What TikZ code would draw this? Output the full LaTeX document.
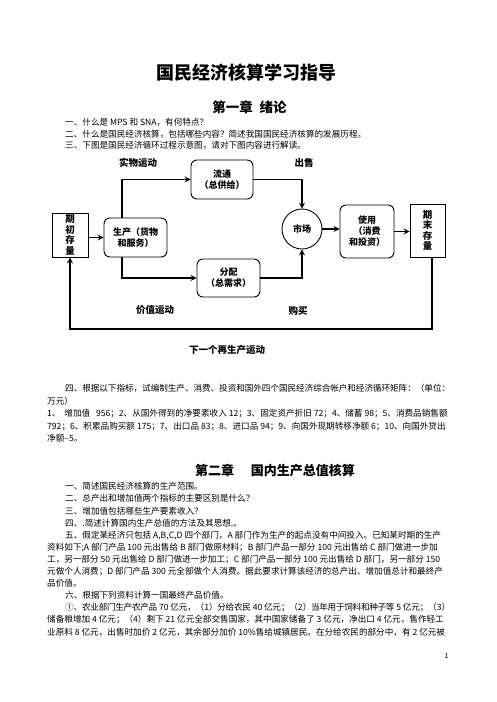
\documentclass[tikz,border=0pt]{standalone}
\usepackage{fontspec}
\setmainfont{Noto Sans CJK SC}
\usetikzlibrary{positioning}
\XeTeXlinebreaklocale "zh"
\XeTeXlinebreakskip=0pt plus 1pt minus 1.5pt
\setlength{\parindent}{0pt}

\newcommand{\bodyfont}{\fontsize{8.6}{10.5}\selectfont}

\begin{document}
\begin{tikzpicture}[x=1pt, y=-1pt, >=stealth,
    txt/.style={anchor=base west, inner sep=0pt, font=\bodyfont},
    jline/.style={anchor=base west, inner sep=0pt, font=\bodyfont, text width=#1, align=justify},
    lbl/.style={inner sep=0pt, font=\fontsize{9.5}{11}\selectfont\bfseries},
    blk/.style={draw, line width=0.9pt, inner sep=0pt, align=center, font=\fontsize{9}{11}\selectfont\bfseries},
    rblk/.style={blk, rounded corners=6pt},
    flow/.style={->, line width=1.6pt}]
    \useasboundingbox[fill=white] (0,0) rectangle (496,702);
    % Headings
    \node[anchor=base, inner sep=0pt, font=\fontsize{18}{18}\selectfont\bfseries] (title) at (246.5,79) {国民经济核算学习指导};
    \node[anchor=base, inner sep=0pt, font=\fontsize{13.5}{14}\selectfont\bfseries] (chapone) at (249.5,112) {第一章\hspace{7pt}绪论};
    \node[txt] (q11) at (65,125.5) {一、什么是 MPS 和 SNA，有何特点？};
    \node[txt] (q12) at (65,137) {二、什么是国民经济核算，包括哪些内容？简述我国国民经济核算的发展历程。};
    \node[txt] (q13) at (65,148.5) {三、下图是国民经济循环过程示意图，请对下图内容进行解读。};

    % Circulation diagram
    \begin{scope}
        \node[blk, minimum width=36pt, minimum height=44pt, font=\fontsize{9.5}{10.5}\selectfont\bfseries] (qichu) at (70,235) {期\\初\\存\\量};
        \node[rblk, minimum width=63pt, minimum height=39pt] (shengchan) at (135.5,237.5) {生产（货物\\和服务）};
        \node[rblk, minimum width=62pt, minimum height=39pt] (liutong) at (222,179.5) {流通\\（总供给）};
        \node[rblk, minimum width=63pt, minimum height=38pt] (fenpei) at (228.5,278) {分配\\（总需求）};
        \node[blk, circle, minimum size=40pt] (shichang) at (302,229) {市场};
        \node[rblk, minimum width=54pt, minimum height=53pt] (shiyong) at (367,231.5) {使用\\（消费\\和投资）};
        \node[blk, minimum width=35pt, minimum height=53pt, font=\fontsize{9.5}{10.5}\selectfont\bfseries] (qimo) at (427.5,230.5) {期\\末\\存\\量};
        \node[lbl] (shiwu) at (138,163) {实物运动};
        \node[lbl] (chushou) at (304,163) {出售};
        \node[lbl] (jiazhi) at (155,310) {价值运动};
        \node[lbl] (goumai) at (298,311) {购买};
        \node[lbl] (zaisheng) at (227,350) {下一个再生产运动};
        \coordinate (loop) at (0,329);
        % Connectors
        \draw[flow] (qichu.east |- shengchan.west) -- (shengchan.west);
        \draw[flow] ([xshift=-13.5pt]shengchan.north) |- (liutong.west);
        \draw[flow] (liutong.east) -| (shichang.north);
        \draw[flow] ([xshift=-13.5pt]shengchan.south) |- (fenpei.west);
        \draw[flow] (fenpei.east) -| (shichang.south);
        \draw[flow] (shichang.east) -- (shichang.east -| shiyong.west);
        \draw[flow] (shiyong.east) -- (shiyong.east -| qimo.west);
        \draw[flow] ([xshift=4.5pt]qimo.south) |- (loop -| qichu.south) -- (qichu.south);
    \end{scope}

    % Question four
    \node[jline=385pt] (q14a) at (65,391.8) {\parfillskip=0pt 四、根据以下指标，试编制生产、消费、投资和国外四个国民经济综合帐户和经济循环矩阵：（单位：};
    \node[txt] (q14b) at (47,404.3) {万元）};
    \node[jline=403pt] (q14c) at (47,416.8) {\parfillskip=0pt 1、\ \ 增加值\ \ \ 956；2、从国外得到的净要素收入 12；3、固定资产折旧 72；4、储蓄 98；5、消费品销售额};
    \node[jline=403pt] (q14d) at (47,429.3) {\parfillskip=0pt 792；6、积累品购买额 175；7、出口品 83；8、进口品 94；9、向国外现期转移净额 6；10、向国外贷出};
    \node[txt] (q14e) at (47,441.8) {净额–5。};

    % Chapter two
    \node[anchor=base, inner sep=0pt, font=\fontsize{13}{14}\selectfont\bfseries] (chaptwo) at (275,475) {第二章\hspace{17pt}国内生产总值核算};
    \node[txt] (q21) at (65,489.8) {一、简述国民经济核算的生产范围。};
    \node[txt] (q22) at (65,501.9) {二、总产出和增加值两个指标的主要区别是什么？};
    \node[txt] (q23) at (65,514) {三、增加值包括哪些生产要素收入？};
    \node[txt] (q24) at (65,526.1) {四、.简述计算国内生产总值的方法及其思想.。};
    \node[jline=385pt] (q25a) at (65,538.2) {\parfillskip=0pt 五、假定某经济只包括 A,B,C,D 四个部门，A 部门作为生产的起点没有中间投入。已知某时期的生产};
    \node[jline=403pt] (q25b) at (47,550.3) {\parfillskip=0pt 资料如下;A 部门产品 100 元出售给 B 部门做原材料；B 部门产品一部分 100 元出售给 C 部门做进一步加};
    \node[jline=403pt] (q25c) at (47,562.4) {\parfillskip=0pt 工，另一部分 50 元出售给 D 部门做进一步加工；C 部门产品一部分 100 元出售给 D 部门，另一部分 150};
    \node[jline=403pt] (q25d) at (47,574.5) {\parfillskip=0pt 元做个人消费；D 部门产品 300 元全部做个人消费。据此要求计算该经济的总产出、增加值总计和最终产};
    \node[txt] (q25e) at (47,586.6) {品价值。};
    \node[txt] (q26) at (65,598.7) {六、根据下列资料计算一国最终产品价值。};
    \node[jline=385pt] (q27a) at (65,610.8) {\parfillskip=0pt ①、农业部门生产农产品 70 亿元，（1）分给农民 40 亿元；（2）当年用于饲料和种子等 5 亿元；（3）};
    \node[jline=403pt] (q27b) at (47,622.9) {\parfillskip=0pt 储备粮增加 4 亿元；（4）剩下 21 亿元全部交售国家，其中国家储备了 3 亿元，净出口 4 亿元，售作轻工};
    \node[jline=403pt] (q27c) at (47,635) {\parfillskip=0pt 业原料 8 亿元，出售时加价 2 亿元，其余部分加价 10\%售给城镇居民。在分给农民的部分中，有 2 亿元被};
    \node[txt, font=\fontsize{7}{8}\selectfont] (pagenum) at (444.5,658) {1};
\end{tikzpicture}
\end{document}
